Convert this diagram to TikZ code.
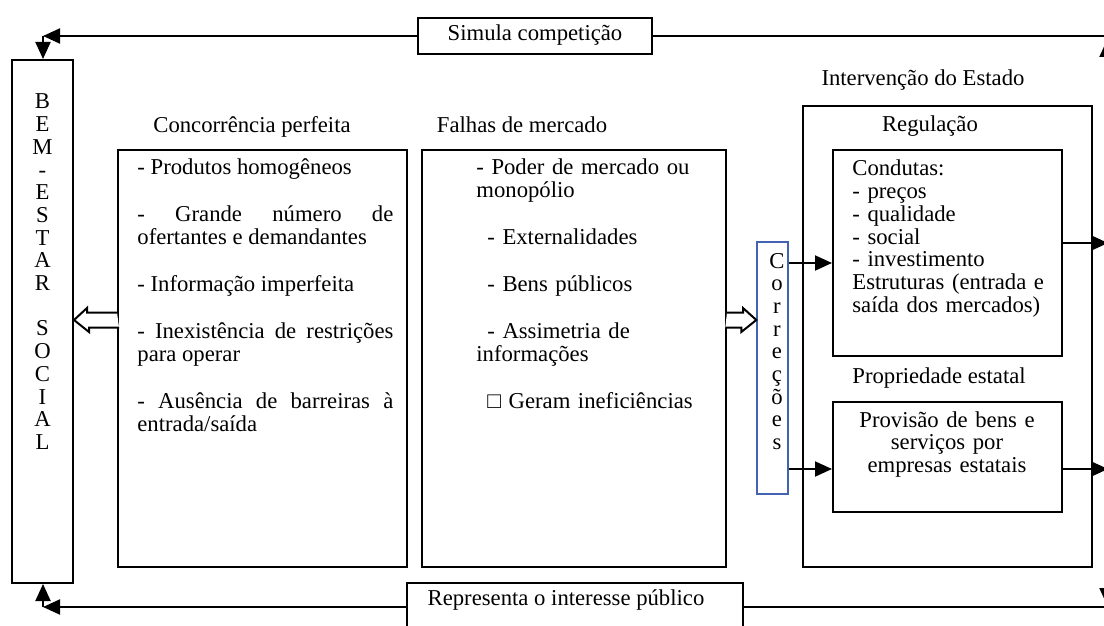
\documentclass[tikz,border=0pt]{standalone}
\usepackage{fontspec}
\setmainfont{Liberation Serif}
\usetikzlibrary{arrows.meta,fit,calc}

\definecolor{corrblue}{RGB}{68,98,178}

\tikzset{
  box/.style={draw, line width=1pt, inner sep=0pt},
  txt/.style={inner sep=0pt, font=\fontsize{11.35pt}{11.35pt}\selectfont},
  tri/.tip={Triangle[length=8.5pt,width=7.5pt]},
  arr/.style={line width=1pt, -tri},
  hollow/.style={line width=1pt, fill=white, line join=miter},
}

\begin{document}
\begin{tikzpicture}[x=0.5pt, y=-0.5pt]
\useasboundingbox (0,0) rectangle (1104,626);
\node[box, fit={(12,60) (73,583)}] (bem) {};
\node[box, fit={(118,150) (407,567)}] (conc) {};
\node[box, fit={(422,150) (726,567)}] (falhas) {};
\node[box, draw=corrblue, line width=0.7pt, fit={(757,242) (788,494)}] (corr) {};
\node[box, fit={(803,106) (1092,567)}] (interv) {};
\node[box, fit={(833,150) (1062,356)}] (cond) {};
\node[box, fit={(833,402) (1062,512)}] (prov) {};
\node[box, fit={(418,18) (652,54)}] (simula) {};
\node[box, fit={(407,583) (743,640)}] (repres) {};

\node[txt, anchor=base] (simulaT) at (535,41) {Simula competição};
\node[txt, anchor=base] (represT) at (566,605) {Representa o interesse público};
\node[txt, anchor=base] (concT) at (252,133) {Concorrência perfeita};
\node[txt, anchor=base] (falhasT) at (522,133) {Falhas de mercado};
\node[txt, anchor=base] (intervT) at (923,86) {Intervenção do Estado};
\node[txt, anchor=base] (regT) at (930,132) {Regulação};
\node[txt, anchor=base west] (propT) at (852,383) {Propriedade estatal};

\node[txt, anchor=base, text width=10pt, align=center] (bemL) at (42.5,109)
  {B\\E\\M\\-\\E\\S\\T\\A\\R\\[11.35pt]S\\O\\C\\I\\A\\L};
\node[txt, anchor=base, text width=10pt, align=center] (corrL) at (777,268)
  {C\\o\\r\\r\\e\\ç\\õ\\e\\s};

\node[txt, anchor=base west, text width=128pt, align=justify] (concL) at (137,175) {%
  \setlength{\parskip}{12.15pt}%
  - Produtos homogêneos\par
  - Grande número de\linebreak ofertantes e demandantes\par
  - Informação imperfeita\par
  - Inexistência de restrições\linebreak para operar\par
  - Ausência de barreiras à\linebreak entrada/saída};
\node[txt, anchor=base west, text width=120pt, align=left] (falhasL) at (476,175) {%
  \setlength{\parskip}{12.15pt}%
  - Poder de mercado ou\\monopólio\par
  \hspace*{5.5pt}- Externalidades\par
  \hspace*{5.5pt}- Bens públicos\par
  \hspace*{5.5pt}- Assimetria de\\informações\par
  \hspace*{5.5pt}□ Geram ineficiências};
\node[txt, anchor=base west, text width=105pt, align=left] (condL) at (852,176)
  {Condutas:\\- preços\\- qualidade\\- social\\- investimento\\Estruturas (entrada e\\saída dos mercados)};
\node[txt, anchor=base, text width=110pt, align=center] (provL) at (947,427)
  {Provisão de bens e\\serviços por\\empresas estatais};

\coordinate (hl) at (95,320);
\coordinate (hr) at (740,320);
\draw[hollow] (conc.west |- hl) ++(0,-7.5) -- ++(-30,0) -- ++(0,-4.5) -- (bem.east |- hl)
  -- ++(15,12) -- ++(0,-4.5) -- ++(30,0);
\draw[hollow] (falhas.east |- hr) ++(0,-7.5) -- ++(16,0) -- ++(0,-4.5) -- (corr.west |- hr)
  -- ++(-15,12) -- ++(0,-4.5) -- ++(-16,0);

\coordinate (c1) at (800,263);
\coordinate (c2) at (800,469);
\draw[arr] (corr.east |- c1) -- (cond.west |- c1);
\draw[arr] (corr.east |- c2) -- (prov.west |- c2);

\coordinate (r1) at (1108,243);
\coordinate (r2) at (1108,469);
\draw[arr] (cond.east |- r1) -- (r1);
\draw[arr] (prov.east |- r2) -- (r2);

\coordinate (tr) at (1107,40);
\coordinate (br) at (1107,605);
\draw[line width=1pt, tri-tri] (tr) -- (br);

\coordinate (trc) at (1112,36);
\coordinate (tl) at (43,36);
\draw[line width=1pt] (trc) -- (simula.east);
\draw[arr] (simula.west) -- (tl);
\draw[arr] (tl) -- (tl |- bem.north);

\coordinate (brc) at (1112,607);
\coordinate (bl) at (43,607);
\draw[line width=1pt] (brc) -- (brc -| repres.east);
\draw[arr] (bl -| repres.west) -- (bl);
\draw[arr] (bl) -- (bl |- bem.south);
\end{tikzpicture}
\end{document}
